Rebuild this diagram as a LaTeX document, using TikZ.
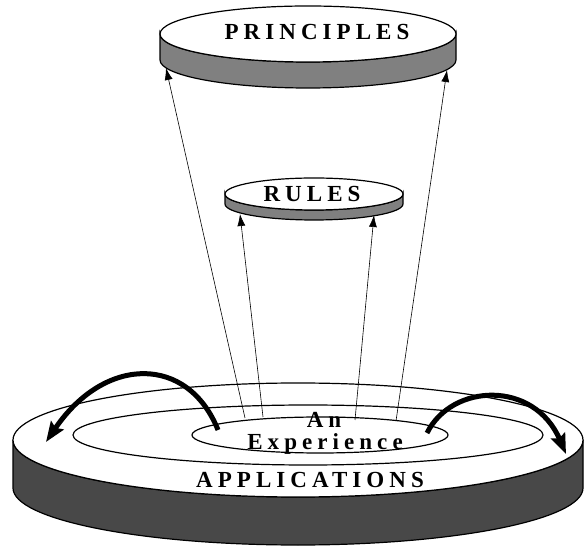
\documentclass[tikz,border=0pt]{standalone}
\usepackage{fontspec}
\setmainfont{Liberation Serif}
\newfontfamily\spacedfont[LetterSpace=22]{Liberation Serif}
\usetikzlibrary{arrows.meta}
\definecolor{lightband}{RGB}{128,128,128}
\definecolor{darkband}{RGB}{72,72,72}
\tikzset{
  outline/.style={draw=black, line width=1.2pt},
  lbl/.style={font=\spacedfont\bfseries\fontsize{23}{25}\selectfont, inner sep=0pt, anchor=base},
  thinarrow/.style={line width=0.6pt, -{Latex[length=12pt,width=8pt]}},
  bigarrow/.style={line width=5pt, -{Stealth[length=20pt,width=15pt,inset=3pt]}},
}
% cx cy rx ry thickness colour
\newcommand\mydisc[6]{%
  \filldraw[outline, fill=#6] ({#1-#3},#2) -- ({#1-#3},{#2-#5})
     arc[start angle=180, end angle=360, x radius=#3, y radius=#4]
     -- ({#1+#3},#2)
     arc[start angle=0, end angle=-180, x radius=#3, y radius=#4] -- cycle;
  \filldraw[outline, fill=white] (#1,#2) ellipse[x radius=#3, y radius=#4];
}
\begin{document}
\begin{tikzpicture}[x=1pt,y=1pt]
\useasboundingbox (0,0) rectangle (585,548);
% applications disc
\mydisc{298}{108}{285}{57}{48}{darkband}
\draw[outline] (308,113) ellipse[x radius=235, y radius=30];
\draw[outline] (320,113) ellipse[x radius=128, y radius=18];
% labels on applications
\node[lbl] (an) at (324,120) {An};
\node[lbl] (exp) at (325,98) {Experience};
\node[lbl] (app) at (310,60) {APPLICATIONS};
% rules and principles discs
\mydisc{314}{354}{89}{16}{10}{lightband}
\node[lbl] (rules) at (312,346) {RULES};
\mydisc{308}{514}{148}{28}{26}{lightband}
\node[lbl] (principles) at (317,508) {PRINCIPLES};
% arrow end points
\coordinate (e1) at (245,130);
\coordinate (e2) at (263,131);
\coordinate (e3) at (355,128);
\coordinate (e4) at (396,127);
\coordinate (pL) at (166,480);
\coordinate (pR) at (447,478);
\coordinate (rL) at (240,334);
\coordinate (rR) at (374,333);
\draw[thinarrow] (e1) -- (pL);
\draw[thinarrow] (e2) -- (rL);
\draw[thinarrow] (e3) -- (rR);
\draw[thinarrow] (e4) -- (pR);
% curved arrows
\coordinate (la) at (218,118);
\coordinate (lb) at (46,106);
\coordinate (ra) at (427,115);
\coordinate (rb) at (566,94);
\draw[bigarrow] (la) .. controls (188,193) and (105,193) .. (lb);
\draw[bigarrow] (ra) .. controls (452,165) and (534,168) .. (rb);
\end{tikzpicture}
\end{document}
